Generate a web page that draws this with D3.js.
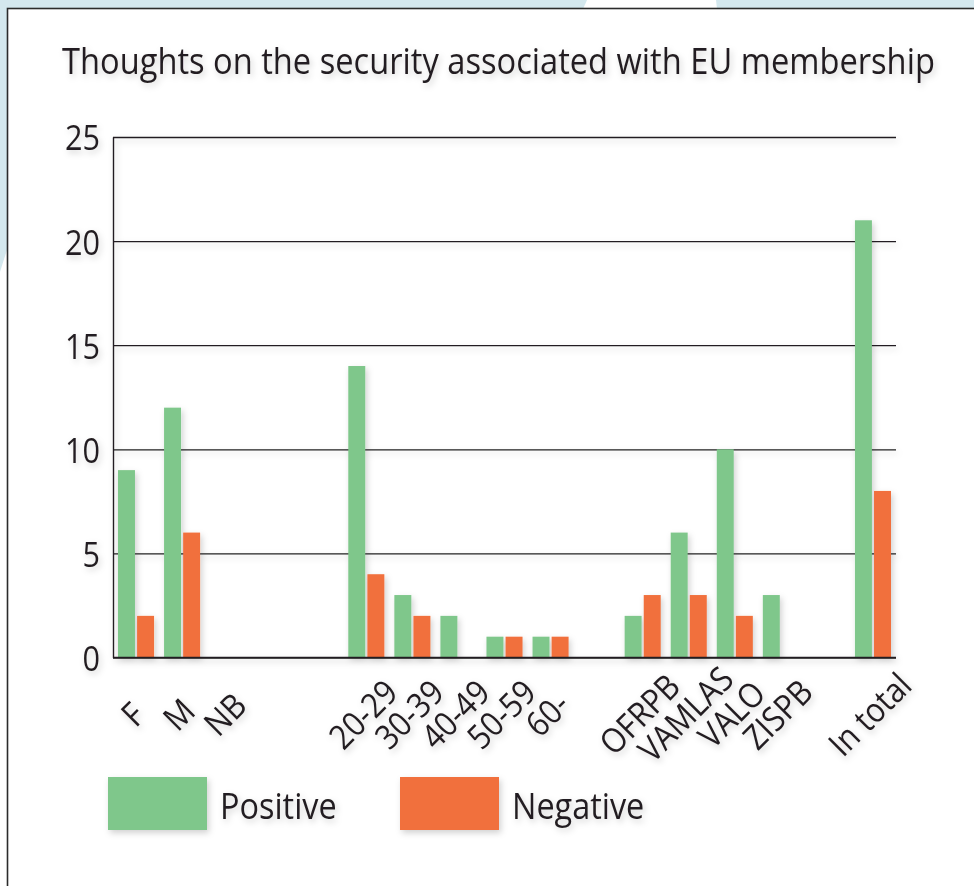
<!DOCTYPE html>
<html>
<head>
<meta charset="utf-8">
<script src="https://cdn.jsdelivr.net/npm/d3@7"></script>
<style>
  html, body { margin: 0; padding: 0; background: #ffffff; }
  svg { display: block; }
  text { font-family: "Open Sans", "Noto Sans", sans-serif; fill: #231f20; }
</style>
</head>
<body>
<svg id="chart" width="974" height="886"></svg>
<script>
// Survey answers per respondent group
const categories = ["F", "M", "NB", "", "", "20-29", "30-39", "40-49", "50-59", "60-", "",
                    "OFRPB", "VAMLAS", "VALO", "ZISPB", "", "In total"];
const positive = [9, 12, 0, null, null, 14, 3, 2, 1, 1, null, 2, 6, 10, 3, null, 21];
const negative = [2, 6, 0, null, null, 4, 2, 0, 1, 1, null, 3, 3, 2, 0, null, 8];
const seriesNames = ["Positive", "Negative"];
const yTicks = [0, 5, 10, 15, 20, 25];
const titleText = "Thoughts on the security associated with EU membership";

const seriesColor = { Positive: "#7fc78b", Negative: "#f1703c" };
const ink = "#231f20";
const widthFactor = 0.9;

const svg = d3.select("#chart");

// page backdrop around the card
svg.append("rect").attr("x", 0).attr("y", 0).attr("width", 974).attr("height", 9).attr("fill", "#d4e8ee");
svg.append("path").attr("d", "M587,0 L716,0 L717,9 L583,9 Z").attr("fill", "#ffffff");
svg.append("path").attr("d", "M0,0 L8,0 L8,247 Q4,259 0,272 Z").attr("fill", "#d4e8ee");

// card
svg.append("rect").attr("x", 7.5).attr("y", 8.5).attr("width", 980).attr("height", 890)
  .attr("fill", "#ffffff").attr("stroke", "#2b2b2b").attr("stroke-width", 1.6);

// soft drop shadow used by all chart content
const defs = svg.append("defs");
const f = defs.append("filter").attr("id", "soft").attr("x", "-20%").attr("y", "-20%")
  .attr("width", "140%").attr("height", "140%");
f.append("feDropShadow").attr("dx", 2).attr("dy", 3).attr("stdDeviation", 3)
  .attr("flood-color", "#000").attr("flood-opacity", 0.18);

const g = svg.append("g").attr("filter", "url(#soft)");

const plot = { left: 113, right: 896, top: 137, bottom: 657.5 };

const x = d3.scaleBand()
  .domain(d3.range(categories.length))
  .range([plot.left, plot.right])
  .paddingInner(0).paddingOuter(0);

const xSub = d3.scaleBand()
  .domain(seriesNames)
  .range([5, x.bandwidth() - 5])
  .paddingInner(0.111).paddingOuter(0);

const y = d3.scaleLinear().domain([0, 25]).range([plot.bottom, plot.top]);

// title, narrowed horizontally to span the card width
const title = g.append("text")
  .attr("x", 0).attr("y", 0)
  .attr("font-size", 36)
  .text(titleText);
const titleLen = title.node().getComputedTextLength();
title.attr("transform", `translate(62,74) scale(${873 / titleLen},1)`);

// y axis with gridlines
const yAxis = g.append("g")
  .attr("transform", `translate(${plot.left},0)`)
  .call(d3.axisLeft(y).tickValues(yTicks).tickSize(-(plot.right - plot.left)).tickSizeOuter(0).tickPadding(13));
yAxis.select(".domain").attr("stroke", ink).attr("stroke-width", 1.4);
yAxis.selectAll(".tick line").attr("stroke", ink).attr("stroke-width", 1.3);
yAxis.selectAll(".tick text")
  .attr("font-size", 34).attr("fill", ink)
  .attr("font-family", null)
  .attr("dy", "0.38em");

// bars
const rows = categories.map((c, i) => ({ i, Positive: positive[i], Negative: negative[i] }))
  .filter(d => d.Positive !== null);

const groups = g.append("g").selectAll("g").data(rows).join("g")
  .attr("transform", d => `translate(${x(d.i)},0)`);
groups.selectAll("rect")
  .data(d => seriesNames.map(k => ({ key: k, value: d[k] })))
  .join("rect")
  .attr("x", d => xSub(d.key))
  .attr("width", xSub.bandwidth())
  .attr("y", d => y(d.value))
  .attr("height", d => y(0) - y(d.value))
  .attr("fill", d => seriesColor[d.key]);

// redraw baseline over bar feet
g.append("line").attr("x1", plot.left).attr("x2", plot.right)
  .attr("y1", y(0)).attr("y2", y(0)).attr("stroke", ink).attr("stroke-width", 1.3);

// category labels
const xAxis = g.append("g")
  .attr("transform", `translate(0,${plot.bottom})`)
  .call(d3.axisBottom(x).tickFormat(i => categories[i]).tickSize(0));
xAxis.select(".domain").remove();
xAxis.selectAll(".tick text")
  .attr("font-size", 34).attr("fill", ink).attr("font-family", null)
  .attr("text-anchor", "middle")
  .attr("y", 0).attr("dy", "0.35em")
  .attr("transform", "translate(-3,57) rotate(-45)");

// legend
const legend = g.append("g");
const legendX = { Positive: 108, Negative: 400 };
seriesNames.forEach(k => {
  legend.append("rect").attr("x", legendX[k]).attr("y", 777).attr("width", 99).attr("height", 53)
    .attr("fill", seriesColor[k]);
  legend.append("text").attr("x", legendX[k] + 112).attr("y", 819)
    .attr("font-size", 36).attr("class", "lg").text(k);
});

// narrow the sans glyphs slightly to the chart's typeface proportions
g.selectAll(".tick text, text.lg").each(function () {
  const len = this.getComputedTextLength();
  if (len > 0) {
    d3.select(this).attr("textLength", len * widthFactor).attr("lengthAdjust", "spacingAndGlyphs");
  }
});
</script>
</body>
</html>
